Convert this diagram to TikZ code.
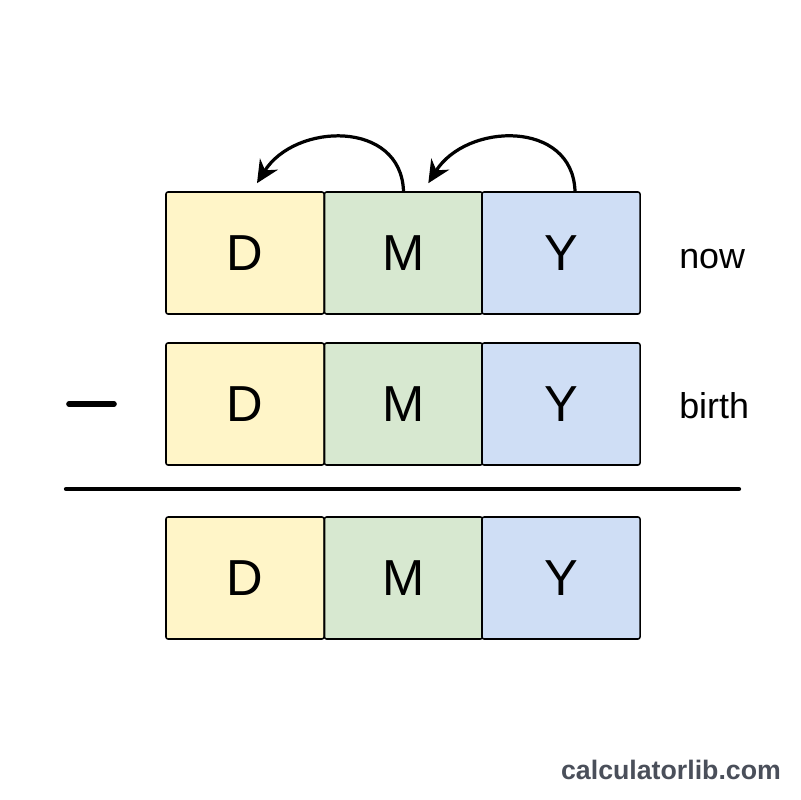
\documentclass[tikz,border=0pt]{standalone}
\usepackage{fontspec}
\setmainfont{Liberation Sans}
\usetikzlibrary{arrows.meta}
\definecolor{dayfill}{RGB}{255,245,200}
\definecolor{monthfill}{RGB}{215,232,208}
\definecolor{yearfill}{RGB}{207,222,245}
\definecolor{brandgray}{RGB}{74,79,90}
\tikzset{
  cell/.style={draw, line width=1.1pt, rounded corners=1.5pt, minimum width=3.95cm, minimum height=3.05cm, inner sep=0pt, font=\fontsize{36}{40}\selectfont},
  tag/.style={anchor=base west, inner sep=0pt, font=\fontsize{25.5}{30}\selectfont},
  carry/.style={line width=2.3pt, -{Stealth[length=16pt,width=15pt]}}
}
\begin{document}
\begin{tikzpicture}[x=0.025cm,y=-0.025cm]
\useasboundingbox[fill=white] (0,0) rectangle (800,800);
% now
\node[cell,fill=dayfill] (nowD) at (245,253) {D};
\node[cell,fill=monthfill] (nowM) at (403.5,253) {M};
\node[cell,fill=yearfill] (nowY) at (561,253) {Y};
% birth
\node[cell,fill=dayfill] (birD) at (245,404) {D};
\node[cell,fill=monthfill] (birM) at (403.5,404) {M};
\node[cell,fill=yearfill] (birY) at (561,404) {Y};
% result
\node[cell,fill=dayfill] (resD) at (245,578) {D};
\node[cell,fill=monthfill] (resM) at (403.5,578) {M};
\node[cell,fill=yearfill] (resY) at (561,578) {Y};
% labels
\node[tag] (nowtag) at (679,268) {now};
\node[tag] (birtag) at (679,418) {birth};
% borrow arrows
\coordinate (dayin) at ([xshift=0.3cm,yshift=0.2cm]nowD.north);
\coordinate (monthin) at ([xshift=0.62cm,yshift=0.2cm]nowM.north);
\draw[carry] (nowM.north) to[out=92,in=58,looseness=1.25] (dayin);
\draw[carry] ([xshift=0.35cm]nowY.north) to[out=92,in=58,looseness=1.25] (monthin);
% minus and rule
\draw[line width=4pt,line cap=round] (69,404) -- (114,404);
\draw[line width=3pt,line cap=round] (66,489) -- (739,489);
\node[anchor=base, inner sep=0pt, text=brandgray, font=\fontsize{19}{22}\selectfont\bfseries] (brand) at (671,779) {calculatorlib.com};
\end{tikzpicture}
\end{document}
